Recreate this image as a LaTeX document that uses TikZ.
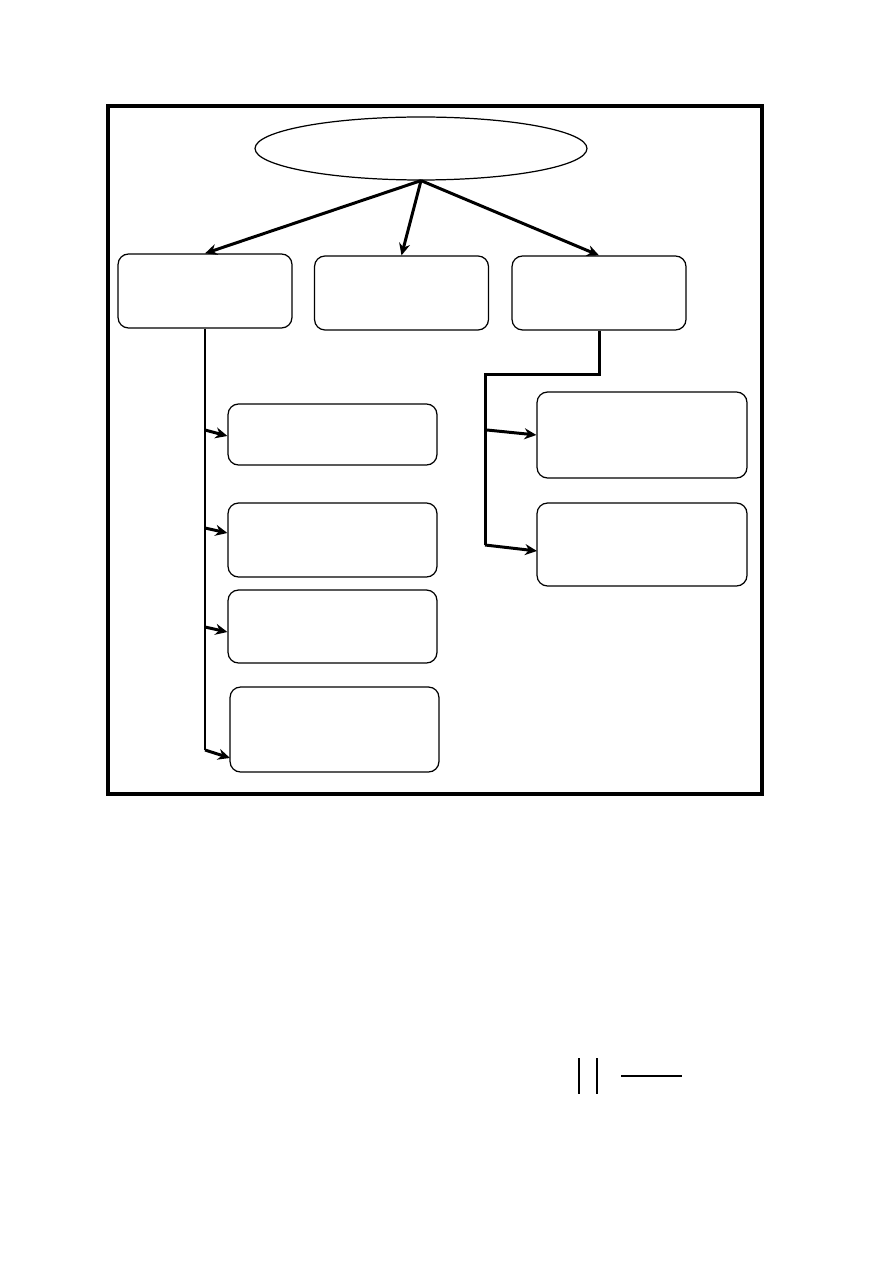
\documentclass[tikz,border=0pt]{standalone}
\usetikzlibrary{shapes.geometric, arrows.meta, positioning}
\begin{document}
\begin{tikzpicture}[
    x=0.02cm, y=-0.02cm,
    box/.style={rectangle, draw=black, rounded corners=6pt, fill=white, line width=0.7pt, inner sep=0pt, minimum width=4.18cm},
    topbox/.style={box, minimum width=3.48cm, minimum height=1.48cm},
    goalshape/.style={ellipse, draw=black, line width=0.7pt, inner sep=0pt, minimum width=6.64cm, minimum height=1.26cm},
    arrow/.style={-{Stealth[length=2.4mm, width=2.2mm]}, line width=1.7pt},
    trunk/.style={line width=1.7pt},
]
\useasboundingbox (0,0) rectangle (893,1263);

% Frame
\draw[line width=1.8pt] (108,106) rectangle (762,794);

% Top
\node[goalshape] (goal) at (421,148.5) {};

% First level
\node[topbox] (left) at (205,291) {};
\node[topbox] (mid) at (401.5,293) {};
\node[topbox] (right) at (599,293) {};

% Left branch
\node[box, minimum height=1.22cm] (la) at (332.5,434.5) {};
\node[box, minimum height=1.48cm] (lb) at (332.5,540) {};
\node[box, minimum height=1.46cm] (lc) at (332.5,626.5) {};
\node[box, minimum height=1.70cm] (ld) at (334.5,729.5) {};

% Right branch
\node[box, minimum width=4.2cm, minimum height=1.72cm] (ra) at (642,435) {};
\node[box, minimum width=4.2cm, minimum height=1.66cm] (rb) at (642,544.5) {};

% Trunk points
\coordinate (t1) at (205,430);
\coordinate (t2) at (205,528);
\coordinate (t3) at (205,627);
\coordinate (t4) at (205,750);
\coordinate (d4) at (230,758);
\coordinate (s1) at (487,430);
\coordinate (s2) at (485,545);
\coordinate (e2) at (537,551);

% Arrows
\draw[arrow] (goal.south) -- (left.north);
\draw[arrow] (goal.south) -- (mid.north);
\draw[arrow] (goal.south) -- (right.north);

\draw[trunk] (left.south) -- (t4);
\draw[arrow] (t1) -- ([yshift=-0.03cm]la.west);
\draw[arrow] (t2) -- ([yshift=0.14cm]lb.west);
\draw[arrow] (t3) -- ([yshift=-0.11cm]lc.west);
\draw[arrow] (t4) -- (d4);

\draw[trunk] (right.south) -- ++(0,44) -| (s2);
\draw[arrow] (s1) -- (ra.west);
\draw[arrow] (s2) -- (e2);

% Loose marks below
\draw[line width=0.8pt] (579,1058) -- (579,1094);
\draw[line width=0.8pt] (597,1058) -- (597,1094);
\draw[line width=0.8pt] (621,1076) -- (682,1076);

\end{tikzpicture}
\end{document}
